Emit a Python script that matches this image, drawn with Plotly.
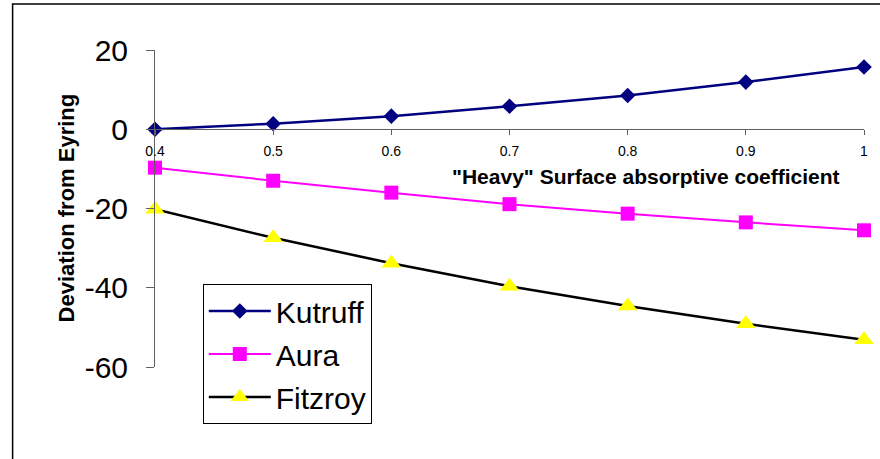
import plotly.graph_objects as go

# ---- data ----
alpha = [0.4, 0.5, 0.6, 0.7, 0.8, 0.9, 1.0]
kutruff = [0.0, 1.4, 3.3, 5.8, 8.5, 11.9, 15.7]
aura = [-9.7, -13.0, -16.0, -18.9, -21.3, -23.5, -25.5]
fitzroy = [-20.2, -27.4, -33.8, -39.6, -44.6, -49.1, -53.1]

x_tickvals = [0.4, 0.5, 0.6, 0.7, 0.8, 0.9, 1.0]
x_ticktext = ["0.4", "0.5", "0.6", "0.7", "0.8", "0.9", "1"]
y_tickvals = [20, 0, -20, -40, -60]
y_ticktext = ["20", "0", "-20", "-40", "-60"]

FONT = "Arial, 'Liberation Sans', sans-serif"

fig = go.Figure()
fig.add_trace(go.Scatter(
    x=alpha, y=kutruff, name="Kutruff", mode="lines+markers", legendgroup="a",
    line=dict(color="#000080", width=2.5),
    marker=dict(symbol="diamond", size=12, color="#000080"),
    cliponaxis=False))
fig.add_trace(go.Scatter(
    x=alpha, y=aura, name="Aura", mode="lines+markers", legendgroup="b",
    line=dict(color="#FF00FF", width=2),
    marker=dict(symbol="square", size=14, color="#FF00FF"),
    cliponaxis=False))
fig.add_trace(go.Scatter(
    x=alpha, y=fitzroy, name="Fitzroy", mode="lines+markers", legendgroup="c",
    line=dict(color="#000000", width=2.5),
    marker=dict(symbol="triangle-up", size=17, color="#FFFF00"),
    cliponaxis=False))

fig.update_layout(
    width=880, height=459, autosize=False,
    margin=dict(l=155, r=13, t=50, b=92, pad=0),
    paper_bgcolor="white", plot_bgcolor="white",
    font=dict(family=FONT, color="black"),
    showlegend=True,
    legend=dict(
        x=(203 - 155) / 712, y=(367 - 284) / 317, xanchor="left", yanchor="top",
        bgcolor="white", bordercolor="black", borderwidth=1,
        font=dict(size=30, family=FONT, color="black"),
        traceorder="grouped", tracegroupgap=1, itemwidth=62,
    ),
    xaxis=dict(
        range=[0.4, 1.0], anchor="free", position=0.75,
        tickmode="array", tickvals=x_tickvals, ticktext=x_ticktext,
        showline=True, linecolor="#606060", linewidth=1,
        ticks="outside", ticklen=5, tickcolor="#606060",
        showgrid=False, zeroline=False, ticklabelstandoff=4,
        tickfont=dict(size=14, family=FONT, color="black"),
    ),
    yaxis=dict(
        range=[-60, 20], domain=[0, 1],
        tickmode="array", tickvals=y_tickvals, ticktext=y_ticktext,
        showline=True, linecolor="#606060", linewidth=1,
        ticks="outside", ticklen=8, tickcolor="#606060",
        showgrid=False, zeroline=False, ticklabelstandoff=12,
        tickfont=dict(size=30, family=FONT, color="black"),
    ),
    annotations=[
        dict(text='"Heavy" Surface absorptive coefficient', xref="paper", yref="paper",
             x=(648 - 155) / 712, y=(367 - 176) / 317, xanchor="center", yanchor="middle",
             showarrow=False, font=dict(size=21, family=FONT, color="black", weight="bold")),
        dict(text="Deviation from Eyring", xref="paper", yref="paper",
             x=(66 - 155) / 712, y=(367 - 208) / 317, xanchor="center", yanchor="middle",
             textangle=-90, showarrow=False,
             font=dict(size=22, family=FONT, color="black", weight="bold")),
    ],
    shapes=[
        dict(type="rect", xref="paper", yref="paper",
             x0=(12 - 155) / 712, x1=1.1, y0=-0.4, y1=(367 - 4) / 317,
             line=dict(color="black", width=1.5), fillcolor="rgba(0,0,0,0)", layer="below"),
    ],
)

fig.write_html("out.html", config={"displayModeBar": False},
               post_script="document.body.style.margin='0';")
